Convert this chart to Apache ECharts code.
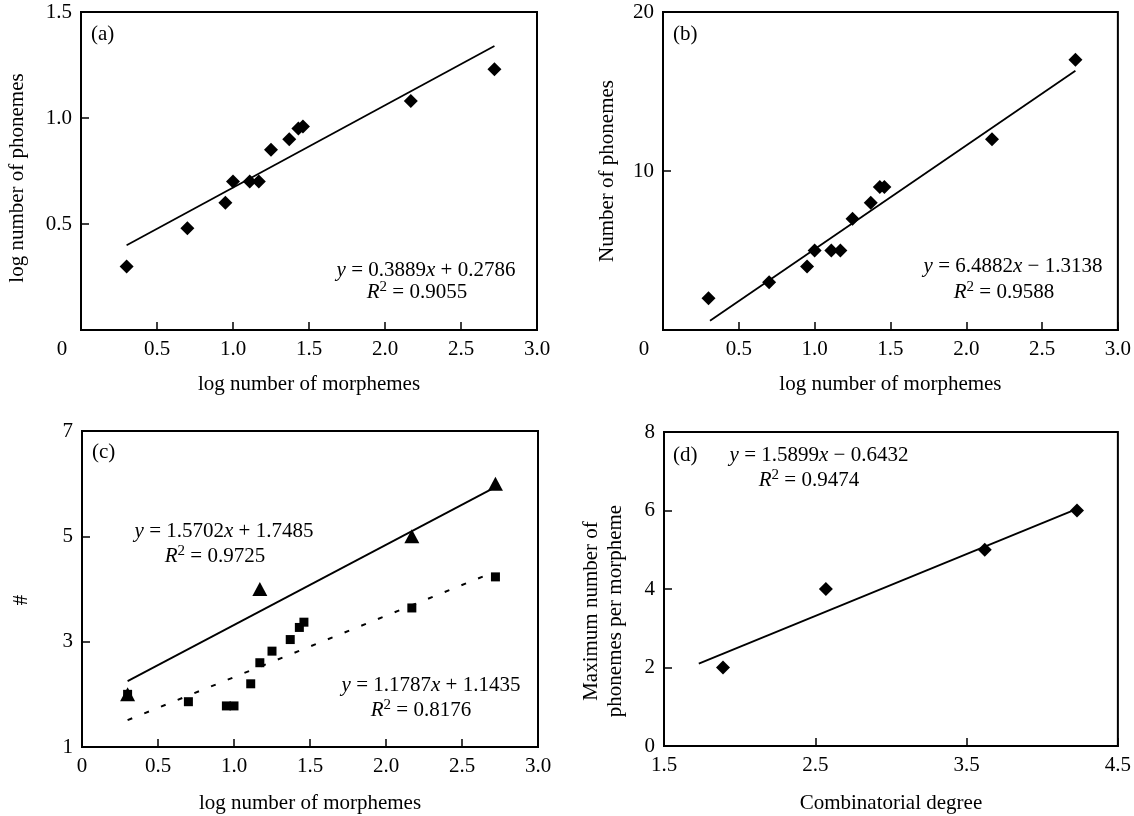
<!DOCTYPE html>
<html>
<head>
<meta charset="utf-8">
<script src="https://cdn.jsdelivr.net/npm/echarts@6/dist/echarts.min.js"></script>
<style>
  html, body { margin: 0; padding: 0; background: #fff; }
  #chart { width: 1134px; height: 816px; }
</style>
</head>
<body>
<div id="chart"></div>
<script>
// values
const logMorphemes = [0.30, 0.70, 0.95, 1.00, 1.11, 1.17, 1.25, 1.37, 1.43, 1.46, 2.17, 2.72]
const logPhonemes = [0.30, 0.48, 0.60, 0.70, 0.70, 0.70, 0.85, 0.90, 0.95, 0.96, 1.08, 1.23]
const numPhonemes = [2, 3, 4, 5, 5, 5, 7, 8, 9, 9, 12, 17]
const maxX = [0.30, 1.17, 2.17, 2.72]
const maxPhon = [2, 4, 5, 6]
const meanPhon = [2.0, 1.86, 1.78, 1.78, 2.20, 2.60, 2.82, 3.04, 3.27, 3.37, 3.64, 4.23]
const combDegree = [1.89, 2.57, 3.62, 4.23]
const maxPerMorph = [2, 4, 5, 6]
// trendline end points
const fitA = [[0.30, 0.40], [2.72, 1.34]]
const fitB = [[0.31, 0.58], [2.72, 16.3]]
const fitCmax = [[0.30, 2.25], [2.71, 5.92]]
const fitCmean = [[0.30, 1.51], [2.71, 4.32]]
const fitD = [[1.73, 2.10], [4.23, 6.04]]

const FONT = '"Liberation Serif", "Times New Roman", serif'
const FS = 21

function pairs (xs, ys) {
  return xs.map((x, i) => [x, ys[i]])
}

function axis (gridIndex, min, max, interval, name, nameGap, formatter, namePad) {
  return {
    type: 'value',
    gridIndex,
    min,
    max,
    interval,
    name,
    nameLocation: 'middle',
    nameGap,
    nameTextStyle: { color: '#000', fontFamily: FONT, fontSize: FS, lineHeight: 24, padding: namePad || 0 },
    axisLine: { show: true, onZero: false, lineStyle: { color: '#000', width: 2 } },
    axisTick: { show: true, inside: true, length: 8, lineStyle: { color: '#000', width: 1.5 } },
    splitLine: { show: false },
    axisLabel: {
      color: '#000',
      fontFamily: FONT,
      fontSize: FS,
      margin: 9,
      formatter,
      rich: {
        z: { color: '#000', fontFamily: FONT, fontSize: FS, padding: [0, 38, 0, 0] }
      }
    }
  }
}

const fixed1 = v => v.toFixed(1)
const shiftedZero = v => v === 0 ? '{z|0}' : v.toFixed(1)
const noZero1 = v => v === 0 ? '' : v.toFixed(1)
const noZeroInt = v => v === 0 ? '' : String(v)
const plainInt = v => String(v)
const zeroOr1 = v => v === 0 ? '0' : v.toFixed(1)

function scatter (xi, data, symbol, size) {
  return {
    type: 'scatter',
    xAxisIndex: xi,
    yAxisIndex: xi,
    data,
    symbol,
    symbolSize: size,
    itemStyle: { color: '#000', opacity: 1 },
    silent: true
  }
}

function fit (xi, data, dashed) {
  return {
    type: 'line',
    xAxisIndex: xi,
    yAxisIndex: xi,
    data,
    symbol: 'none',
    silent: true,
    lineStyle: { color: '#000', width: dashed ? 2 : 1.8, type: dashed ? [5, 13] : 'solid' }
  }
}

const richEq = {
  i: { fontFamily: FONT, fontSize: FS, fontStyle: 'italic', color: '#000', lineHeight: 24 },
  s: { fontFamily: FONT, fontSize: 15, color: '#000', verticalAlign: 'top', lineHeight: 24 }
}

function label (text, x, y, align) {
  return {
    type: 'text',
    x,
    y,
    silent: true,
    style: {
      text,
      align: align || 'center',
      verticalAlign: 'middle',
      fontFamily: FONT,
      fontSize: FS,
      fill: '#000',
      rich: richEq
    }
  }
}

const gridBox = { show: true, borderColor: '#000', borderWidth: 2, backgroundColor: '#fff' }

const option = {
  animation: false,
  backgroundColor: '#fff',
  grid: [
    Object.assign({ left: 81, top: 12, width: 456, height: 318 }, gridBox),
    Object.assign({ left: 663, top: 12, width: 456, height: 318 }, gridBox),
    Object.assign({ left: 82, top: 431, width: 456, height: 319 }, gridBox),
    Object.assign({ left: 664, top: 432, width: 456, height: 317 }, gridBox)
  ],
  xAxis: [
    axis(0, 0, 3, 0.5, 'log number of morphemes', 42, shiftedZero),
    axis(1, 0, 3, 0.5, 'log number of morphemes', 42, shiftedZero),
    axis(2, 0, 3, 0.5, 'log number of morphemes', 44, zeroOr1),
    axis(3, 1.5, 4.5, 1, 'Combinatorial degree', 45, fixed1)
  ],
  yAxis: [
    axis(0, 0, 1.5, 0.5, 'log number of phonemes', 52, noZero1, [0, 14, 0, 0]),
    axis(1, 0, 20, 10, 'Number of phonemes', 44, noZeroInt),
    axis(2, 1, 7, 2, '#', 49, plainInt, [0, 22, 0, 0]),
    axis(3, 0, 8, 2, 'Maximum number of\nphonemes per morpheme', 37, plainInt, [0, 44, 0, 0])
  ],
  series: [
    fit(0, fitA),
    scatter(0, pairs(logMorphemes, logPhonemes), 'diamond', 14),
    fit(1, fitB),
    scatter(1, pairs(logMorphemes, numPhonemes), 'diamond', 14),
    fit(2, fitCmax),
    fit(2, fitCmean, true),
    scatter(2, pairs(logMorphemes, meanPhon), 'rect', 9),
    scatter(2, pairs(maxX, maxPhon), 'triangle', [15, 14]),
    fit(3, fitD),
    scatter(3, pairs(combDegree, maxPerMorph), 'diamond', 14)
  ],
  graphic: [
    label('(a)', 91, 34, 'left'),
    label('(b)', 673, 34, 'left'),
    label('(c)', 92, 452, 'left'),
    label('(d)', 673, 455, 'left'),
    label('{i|y} = 0.3889{i|x} + 0.2786', 426, 270),
    label('{i|R}{s|2} = 0.9055', 417, 292),
    label('{i|y} = 6.4882{i|x} \u2212 1.3138', 1013, 266),
    label('{i|R}{s|2} = 0.9588', 1004, 292),
    label('{i|y} = 1.5702{i|x} + 1.7485', 224, 531),
    label('{i|R}{s|2} = 0.9725', 215, 556),
    label('{i|y} = 1.1787{i|x} + 1.1435', 431, 685),
    label('{i|R}{s|2} = 0.8176', 421, 710),
    label('{i|y} = 1.5899{i|x} \u2212 0.6432', 819, 455),
    label('{i|R}{s|2} = 0.9474', 809, 480)
  ]
}

const myChart = echarts.init(document.getElementById('chart'))
myChart.setOption(option)
</script>
</body>
</html>
